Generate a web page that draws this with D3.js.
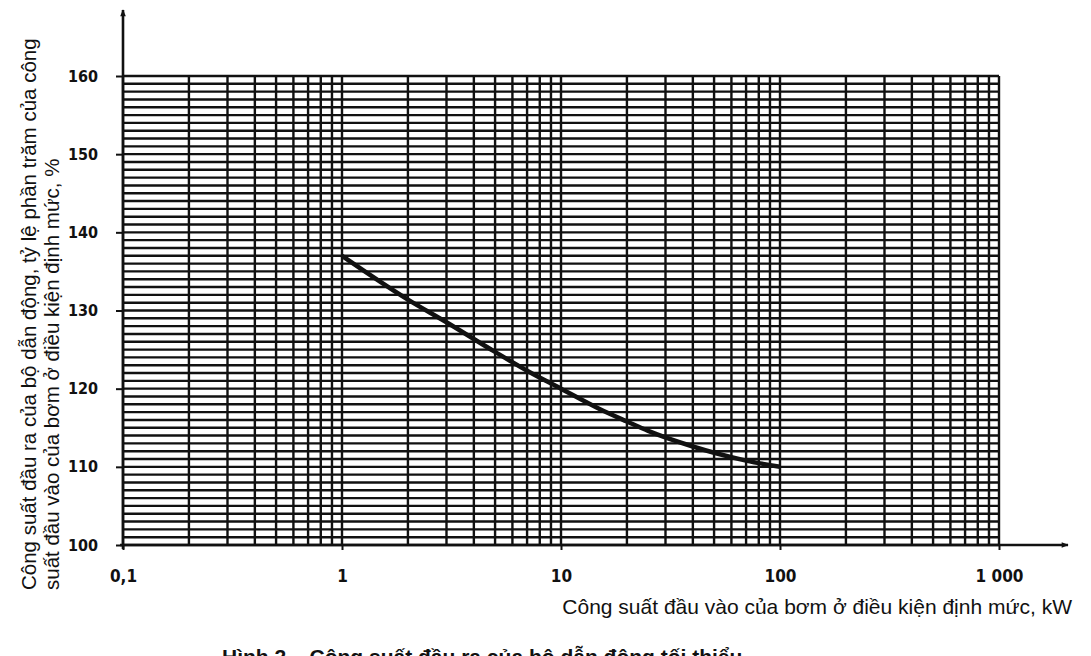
<!DOCTYPE html>
<html><head><meta charset="utf-8">
<script src="https://cdn.jsdelivr.net/npm/d3@7/dist/d3.min.js"></script>
<style>
html,body{margin:0;padding:0;background:#fff;}
svg{display:block;}
.tick text{font-family:"DejaVu Sans Condensed","DejaVu Sans",sans-serif;font-weight:bold;font-size:16px;fill:#111;}
</style></head><body>
<svg id="c" width="1091" height="656"></svg>
<script>
// Data
const xTickValues = [0.1, 1, 10, 100, 1000];
const xTickLabels = ["0,1", "1", "10", "100", "1 000"];
const yTickValues = [100, 110, 120, 130, 140, 150, 160];
const curveX = [1, 2, 3, 5, 7, 10, 15, 20, 25, 40, 50, 70, 100];
const curveY = [137, 131.4, 128.5, 124.7, 122.3, 120, 117.4, 115.8, 114.6, 112.6, 111.8, 110.8, 110];
const xTitle = "Công suất đầu vào của bơm ở điều kiện định mức, kW";
const yTitle1 = "Công suất đầu ra của bộ dẫn động, tỷ lệ phần trăm của công";
const yTitle2 = "suất đầu vào của bơm ở điều kiện định mức, %";
const caption = "Hình 2 – Công suất đầu ra của bộ dẫn động tối thiểu";

const svg = d3.select("#c");
const x = d3.scaleLog().domain([0.1, 1000]).range([123, 999]);
const y = d3.scaleLinear().domain([100, 160]).range([545, 76]);
const ink = "#111";

// vertical grid values
const vGrid = [];
[0.1, 1, 10, 100].forEach(d => { for (let k = 1; k <= 9; k++) vGrid.push(+(k * d).toPrecision(3)); });
vGrid.push(1000);
const hGrid = d3.range(100, 161, 1);

const g = svg.append("g");
g.selectAll("line.h").data(hGrid).join("line")
  .attr("x1", x(0.1)).attr("x2", x(1000))
  .attr("y1", d => y(d)).attr("y2", d => y(d))
  .attr("stroke", ink).attr("stroke-width", 2.4);
g.selectAll("line.v").data(vGrid).join("line")
  .attr("x1", d => x(d)).attr("x2", d => x(d))
  .attr("y1", y(100)).attr("y2", y(160))
  .attr("stroke", ink).attr("stroke-width", 2.4);

// axes
const yAxis = svg.append("g").attr("transform", `translate(${x(0.1)},0)`)
  .call(d3.axisLeft(y).tickValues(yTickValues).tickSize(7).tickPadding(18).tickFormat(d3.format("d")));
yAxis.select(".domain").remove();
yAxis.selectAll(".tick line").attr("stroke", ink).attr("stroke-width", 2);

const xAxis = svg.append("g").attr("transform", `translate(0,${y(100)})`)
  .call(d3.axisBottom(x).tickValues(xTickValues).tickSize(5).tickPadding(20).tickFormat((d, i) => xTickLabels[i]));
xAxis.select(".domain").remove();
xAxis.selectAll(".tick line").attr("stroke", ink).attr("stroke-width", 2);
xAxis.selectAll(".tick text").style("font-size", "17px");

// axis lines with arrows
svg.append("defs").append("marker").attr("id", "arr")
  .attr("viewBox", "0 0 10 10").attr("refX", 9).attr("refY", 5)
  .attr("markerWidth", 13).attr("markerHeight", 7).attr("markerUnits", "userSpaceOnUse")
  .attr("orient", "auto")
  .append("path").attr("d", "M0,1 L10,5 L0,9 Z").attr("fill", ink);
svg.append("line").attr("x1", x(0.1)).attr("x2", x(0.1)).attr("y1", y(100) + 4).attr("y2", 10)
  .attr("stroke", ink).attr("stroke-width", 2.6).attr("marker-end", "url(#arr)");
svg.append("line").attr("x1", x(0.1) - 3).attr("x2", 1068).attr("y1", y(100)).attr("y2", y(100))
  .attr("stroke", ink).attr("stroke-width", 2.6).attr("marker-end", "url(#arr)");

// curve
const pts = curveX.map((v, i) => [v, curveY[i]]);
svg.append("path").datum(pts)
  .attr("d", d3.line().x(d => x(d[0])).y(d => y(d[1])).curve(d3.curveMonotoneX))
  .attr("fill", "none").attr("stroke", ink).attr("stroke-width", 4.5);

// titles
const font = "Liberation Sans, Arial, sans-serif";
svg.append("text").attr("x", 1072).attr("y", 614).attr("text-anchor", "end")
  .attr("font-family", font).attr("font-size", 21).attr("fill", ink)
  .text(xTitle);
svg.append("text").attr("transform", "translate(36,590) rotate(-90)")
  .attr("font-family", font).attr("font-size", 20.5).attr("fill", ink)
  .text(yTitle1);
svg.append("text").attr("transform", "translate(59,590) rotate(-90)")
  .attr("font-family", font).attr("font-size", 20.5).attr("fill", ink)
  .text(yTitle2);
svg.append("text").attr("x", 222).attr("y", 664)
  .attr("font-family", font).attr("font-weight", "bold").attr("font-size", 21).attr("fill", ink)
  .text(caption);
</script>
</body></html>
